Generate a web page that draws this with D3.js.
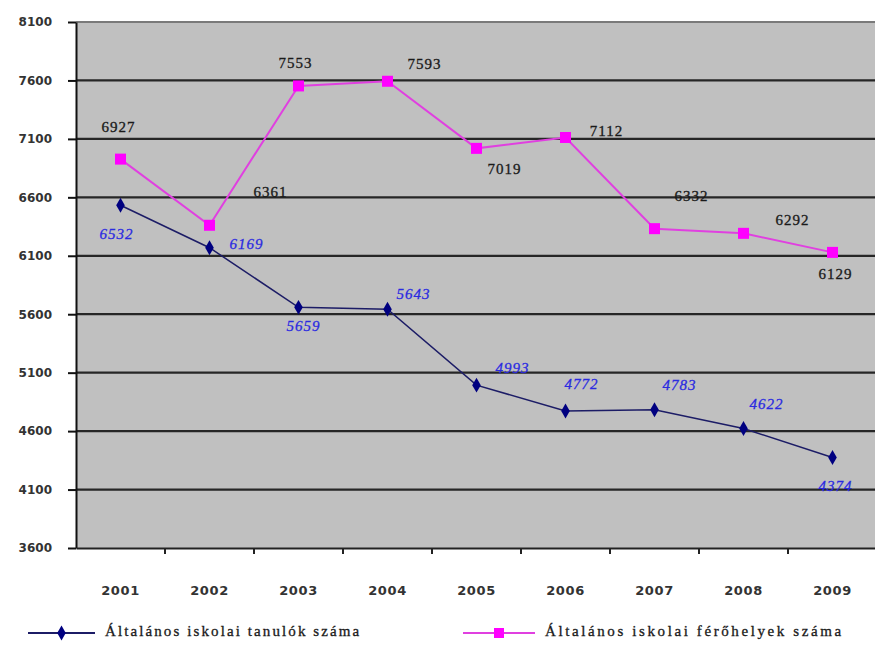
<!DOCTYPE html>
<html><head><meta charset="utf-8">
<script src="https://cdn.jsdelivr.net/npm/d3@7"></script>
<style>body{margin:0;background:#fff}</style>
</head><body>
<svg id="c" width="875" height="660"></svg>
<script>
const years = ["2001","2002","2003","2004","2005","2006","2007","2008","2009"];
const students = [6532,6169,5659,5643,4993,4772,4783,4622,4374];
const places = [6927,6361,7553,7593,7019,7112,6332,6292,6129];
const yTicks = [3600,4100,4600,5100,5600,6100,6600,7100,7600,8100];
const seriesNames = ["Általános iskolai tanulók száma","Általános iskolai férőhelyek száma"];
// label offsets (dx, dy) relative to marker
const studentLabelOff = [[-4,30],[37,-2],[5,20],[26,-14],[36,-16],[16,-25],[25,-23],[23,-23],[3,30]];
const placeLabelOff = [[-2,-31],[61,-32],[-3,-21],[37,-16],[28,22],[41,-5],[37,-31],[49,-12],[3,23]];

const svg = d3.select("#c");
const L = 76, T = 22, R = 877, B = 548;
const x = d3.scaleBand().domain(years).range([L, R]);
const y = d3.scaleLinear().domain([3600, 8100]).range([B, T]);

svg.append("rect").attr("x", L).attr("y", T).attr("width", R - L).attr("height", B - T).attr("fill", "#c0c0c0");

// gridlines
svg.append("g").selectAll("line").data(yTicks.slice(1)).join("line")
  .attr("x1", L).attr("x2", R).attr("y1", d => y(d)).attr("y2", d => y(d))
  .attr("stroke", d => d === 8100 ? "#7a7a7a" : "#262626").attr("stroke-width", 2.2);

// y axis
const ya = svg.append("g").attr("transform", `translate(${L},0)`)
  .call(d3.axisLeft(y).tickValues(yTicks).tickSize(8).tickSizeOuter(0).tickPadding(16).tickFormat(d3.format("d")));
ya.select(".domain").attr("stroke", "#111").attr("stroke-width", 2);
ya.selectAll(".tick line").attr("stroke", "#111").attr("stroke-width", 2);
ya.selectAll("text").attr("font-family", "DejaVu Sans").attr("font-weight", "bold").attr("font-size", 12)
  .attr("letter-spacing", "0px").attr("fill", "#333");

// x axis
const xa = svg.append("g").attr("transform", `translate(0,${B})`)
  .call(d3.axisBottom(x).tickSize(0).tickPadding(38));
xa.select(".domain").attr("stroke", "#222").attr("stroke-width", 2);
xa.selectAll("text").attr("font-family", "DejaVu Sans").attr("font-weight", "bold").attr("font-size", 13)
  .attr("letter-spacing", "0.6px").attr("fill", "#333");
// category boundary ticks
svg.append("g").selectAll("line").data(years.slice(1)).join("line")
  .attr("x1", d => x(d)).attr("x2", d => x(d)).attr("y1", B).attr("y2", B + 6)
  .attr("stroke", "#222").attr("stroke-width", 2);

const cx = d => x(d) + x.bandwidth() / 2;
const line = d3.line().x((d, i) => cx(years[i])).y(d => y(d));

// pink series
svg.append("path").datum(places).attr("d", line).attr("fill", "none").attr("stroke", "#e040e0").attr("stroke-width", 2);
svg.append("g").selectAll("rect").data(places).join("rect")
  .attr("x", (d, i) => cx(years[i]) - 5.5).attr("y", d => y(d) - 5.5).attr("width", 11).attr("height", 11).attr("fill", "#ff00ff");

// blue series
svg.append("path").datum(students).attr("d", line).attr("fill", "none").attr("stroke", "#1c1c66").attr("stroke-width", 1.5);
svg.append("g").selectAll("path").data(students).join("path")
  .attr("d", d3.symbol(d3.symbolDiamond, 64))
  .attr("transform", (d, i) => `translate(${cx(years[i])},${y(d)})`).attr("fill", "#000080");

// labels
svg.append("g").selectAll("text").data(places).join("text")
  .attr("x", (d, i) => cx(years[i]) + placeLabelOff[i][0])
  .attr("y", (d, i) => y(d) + placeLabelOff[i][1])
  .attr("text-anchor", "middle").attr("dominant-baseline", "middle")
  .attr("font-family", "Liberation Serif").attr("font-size", 15).attr("letter-spacing", "1px")
  .attr("fill", "#1a1a1a").attr("stroke", "#1a1a1a").attr("stroke-width", 0.3).text(d => d);
svg.append("g").selectAll("text").data(students).join("text")
  .attr("x", (d, i) => cx(years[i]) + studentLabelOff[i][0])
  .attr("y", (d, i) => y(d) + studentLabelOff[i][1])
  .attr("text-anchor", "middle").attr("dominant-baseline", "middle")
  .attr("font-family", "Liberation Serif").attr("font-style", "italic").attr("font-size", 15).attr("letter-spacing", "1px")
  .attr("fill", "#2a2ae0").attr("stroke", "#2a2ae0").attr("stroke-width", 0.3).text(d => d);

// legend
const lg = svg.append("g");
const items = [
  {x0: 28, x1: 95, name: seriesNames[0], type: "diamond", color: "#000080", lc: "#1c1c66", ls: 2.1},
  {x0: 463, x1: 535, name: seriesNames[1], type: "square", color: "#ff00ff", lc: "#e040e0", ls: 2.6}
];
const ly = 633;
items.forEach(it => {
  lg.append("line").attr("x1", it.x0).attr("x2", it.x1).attr("y1", ly).attr("y2", ly).attr("stroke", it.lc).attr("stroke-width", 2);
  const mx = (it.x0 + it.x1) / 2;
  if (it.type === "diamond") {
    lg.append("path").attr("d", d3.symbol(d3.symbolDiamond, 64)).attr("transform", `translate(${mx},${ly})`).attr("fill", it.color);
  } else {
    lg.append("rect").attr("x", mx - 5).attr("y", ly - 5).attr("width", 10).attr("height", 10).attr("fill", it.color);
  }
  lg.append("text").attr("x", it.x1 + 10).attr("y", ly).attr("dominant-baseline", "middle")
    .attr("font-family", "Liberation Serif").attr("font-size", 15).attr("letter-spacing", it.ls + "px")
    .attr("fill", "#1a1a1a").attr("stroke", "#1a1a1a").attr("stroke-width", 0.3).text(it.name);
});
</script>
</body></html>
